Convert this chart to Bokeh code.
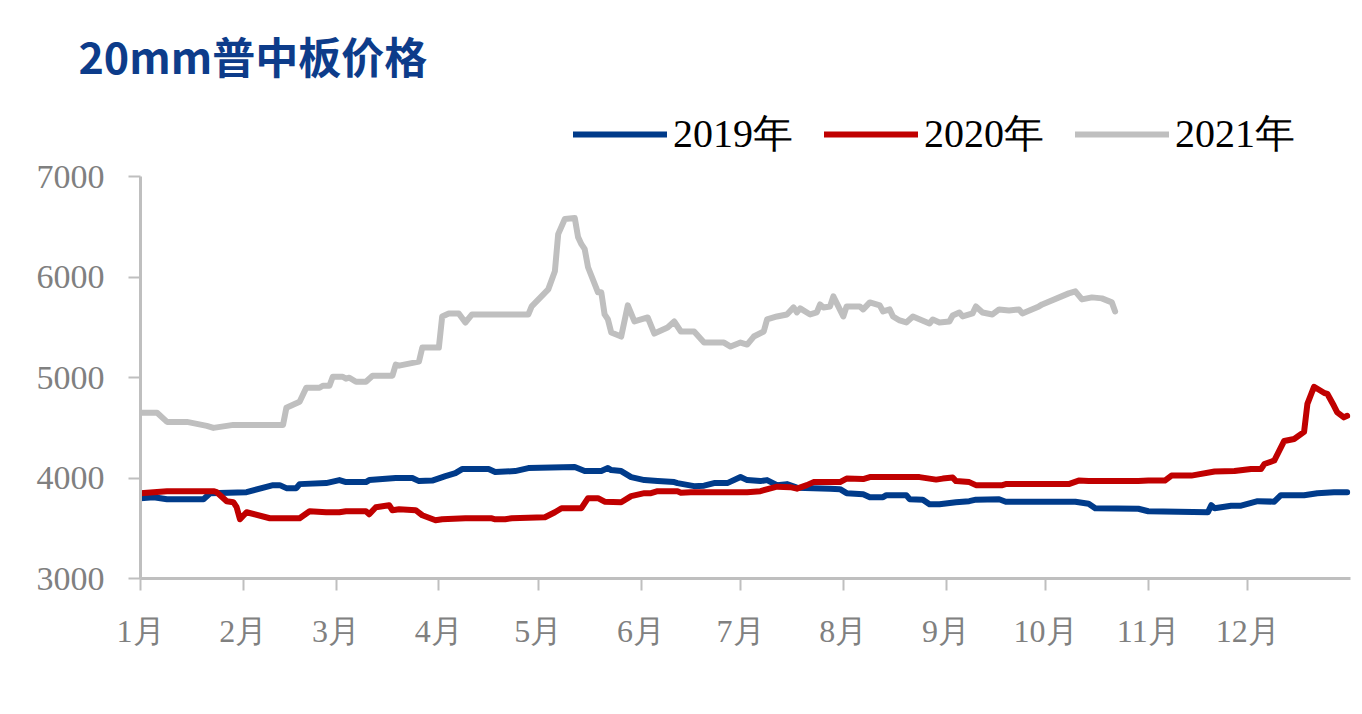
from bokeh.plotting import figure
from bokeh.models import FixedTicker, Legend, LegendItem, Range1d
from bokeh.embed import file_html
from bokeh.resources import INLINE

# ---- data (x = day of year, 0 = 1月1日) ----
month_start = [0, 31, 59, 90, 120, 151, 181, 212, 243, 273, 304, 334]
month_labels = ["1月", "2月", "3月", "4月", "5月", "6月", "7月", "8月", "9月", "10月", "11月", "12月"]
y_ticks = [3000, 4000, 5000, 6000, 7000]

day_2019 = [0, 4, 8, 19, 21, 32, 40, 42, 44, 47, 48, 56, 60, 62, 68, 69, 77, 82, 84, 88,
            92, 95, 97, 105, 107, 113, 117, 131, 134, 139, 141, 142, 145, 148, 152, 156, 161, 162, 167, 170,
            173, 177, 181, 183, 187, 189, 192, 195, 198, 208, 211, 213, 218, 220, 224, 225, 231, 232, 236, 238,
            241, 246, 250, 252, 259, 261, 282, 286, 288, 301, 304, 313, 322, 323, 324, 329, 332, 337, 342, 344,
            351, 355, 360, 364]
price_2019 = [3800, 3810, 3790, 3790, 3850, 3860, 3930, 3930, 3900, 3900, 3940, 3950, 3980, 3960, 3960, 3980, 4000, 4000, 3970, 3975,
              4020, 4050, 4090, 4090, 4060, 4070, 4100, 4110, 4070, 4070, 4100, 4080, 4070, 4010, 3980, 3970, 3960, 3950, 3920, 3925,
              3950, 3950, 4010, 3980, 3970, 3980, 3930, 3940, 3905, 3895, 3890, 3850, 3840, 3810, 3810, 3830, 3830, 3790, 3785, 3740,
              3740, 3760, 3770, 3785, 3790, 3765, 3765, 3745, 3700, 3695, 3670, 3665, 3660, 3730, 3700, 3725, 3725, 3770, 3765, 3830,
              3830, 3850, 3860, 3860]

day_2020 = [0, 8, 22, 23, 26, 28, 29, 30, 32, 39, 48, 51, 56, 60, 62, 68, 69, 71, 75, 76,
            78, 83, 85, 89, 91, 98, 106, 107, 110, 112, 122, 125, 127, 133, 135, 138, 140, 145, 148, 152,
            154, 156, 162, 163, 166, 183, 187, 192, 196, 198, 201, 203, 211, 213, 218, 220, 235, 240, 242, 245,
            246, 250, 252, 260, 261, 269, 280, 283, 286, 301, 304, 309, 311, 317, 324, 330, 335, 338, 339, 342,
            345, 348, 351, 352, 354, 357, 358, 360, 361, 363, 364]
price_2020 = [3850, 3870, 3870, 3860, 3770, 3760, 3710, 3590, 3660, 3600, 3600, 3670, 3660, 3660, 3670, 3670, 3640, 3710, 3730, 3680,
              3690, 3680, 3630, 3580, 3590, 3600, 3600, 3590, 3590, 3600, 3610, 3660, 3700, 3700, 3800, 3800, 3765, 3760, 3820, 3850,
              3850, 3870, 3870, 3855, 3860, 3860, 3870, 3915, 3910, 3895, 3930, 3960, 3960, 3995, 3990, 4010, 4010, 3985, 3995, 4005,
              3970, 3960, 3930, 3930, 3940, 3940, 3940, 3975, 3970, 3970, 3975, 3975, 4025, 4025, 4065, 4070, 4090, 4090, 4140, 4175,
              4370, 4390, 4460, 4740, 4910, 4850, 4840, 4720, 4655, 4605, 4620]

day_2021 = [0, 5, 8, 14, 20, 22, 28, 43, 44, 48, 50, 54, 55, 57, 58, 61, 62, 63, 65, 68,
            70, 76, 77, 78, 84, 85, 90, 91, 93, 96, 98, 100, 117, 118, 123, 125, 126, 128, 131, 132,
            133, 134, 135, 138, 139, 140, 141, 142, 145, 147, 149, 153, 155, 159, 161, 163, 167, 170, 176, 178,
            181, 183, 185, 188, 189, 192, 195, 197, 198, 199, 202, 204, 205, 206, 208, 209, 212, 213, 217, 218,
            220, 223, 224, 226, 227, 229, 231, 233, 238, 239, 241, 244, 245, 247, 248, 251, 252, 254, 257, 259,
            262, 265, 266, 271, 272, 280, 282, 284, 287, 290, 293, 294]
price_2021 = [4650, 4650, 4560, 4560, 4520, 4500, 4530, 4530, 4700, 4760, 4900, 4900, 4920, 4920, 5010, 5010, 4990, 5000, 4960, 4960,
              5020, 5020, 5130, 5120, 5160, 5300, 5300, 5610, 5640, 5640, 5550, 5630, 5630, 5710, 5880, 6060, 6430, 6580, 6590, 6400,
              6330, 6280, 6100, 5850, 5850, 5630, 5580, 5450, 5410, 5720, 5560, 5600, 5440, 5500, 5560, 5460, 5460, 5350, 5350, 5310,
              5350, 5330, 5410, 5460, 5580, 5610, 5630, 5700, 5650, 5690, 5630, 5650, 5730, 5700, 5710, 5810, 5610, 5710, 5710, 5680,
              5750, 5720, 5660, 5680, 5610, 5570, 5550, 5610, 5540, 5580, 5550, 5560, 5620, 5650, 5610, 5640, 5710, 5650, 5630, 5680,
              5670, 5680, 5640, 5710, 5730, 5840, 5860, 5780, 5800, 5790, 5750, 5660]

series_names = ["2019年", "2020年", "2021年"]
series_colors = ["#003B8A", "#C00000", "#BFBFBF"]
title_text = "20mm普中板价格"

# ---- figure ----
W, H = 1362, 714
left, right, top, bottom = 140, 12, 100, 136
frame_h = H - top - bottom
p = figure(width=W, height=H, output_backend="svg", toolbar_location=None,
           title=title_text,
           min_border_left=left, min_border_right=right, min_border_top=top, min_border_bottom=bottom,
           x_range=Range1d(0, 365), y_range=Range1d(3000, 3000 + frame_h / 100.4 * 1000))
p.outline_line_color = None
p.grid.visible = False
p.background_fill_color = "white"
p.border_fill_color = "white"

p.title.align = "left"
p.title.offset = -62
p.title.standoff = 30
p.title.text_font = "Noto Sans CJK SC"
p.title.text_font_style = "bold"
p.title.text_font_size = "43px"
p.title.text_color = "#0D3C8A"

renderers = []
for d, v, c in zip([day_2019, day_2020, day_2021], [price_2019, price_2020, price_2021], series_colors):
    r = p.line(d, v, line_color=c, line_width=6, line_join="round", line_cap="round")
    renderers.append(r)

axis_color = "#BFBFBF"
label_color = "#808080"

xa = p.xaxis[0]
xa.ticker = FixedTicker(ticks=month_start)
xa.major_label_overrides = {m: l for m, l in zip(month_start, month_labels)}
xa.axis_line_color = axis_color
xa.axis_line_width = 3
xa.major_tick_line_color = axis_color
xa.major_tick_line_width = 2
xa.major_tick_in = 0
xa.major_tick_out = 12
xa.minor_tick_line_color = None
xa.major_label_text_font = "Liberation Serif"
xa.major_label_text_font_size = "32px"
xa.major_label_text_color = label_color
xa.major_label_standoff = 22

ya = p.yaxis[0]
ya.ticker = FixedTicker(ticks=y_ticks)
ya.bounds = (3000, 7000)
ya.axis_line_color = axis_color
ya.axis_line_width = 3
ya.major_tick_line_color = axis_color
ya.major_tick_line_width = 2
ya.major_tick_in = 0
ya.major_tick_out = 12
ya.minor_tick_line_color = None
ya.major_label_text_font = "Liberation Serif"
ya.major_label_text_font_size = "34px"
ya.major_label_text_color = label_color
ya.major_label_standoff = 24

legend = Legend(items=[LegendItem(label=n, renderers=[r]) for n, r in zip(series_names, renderers)],
                location=(433, 417), orientation="horizontal",
                glyph_width=94, glyph_height=40, label_height=40, label_standoff=6, spacing=31,
                padding=0, margin=0,
                label_text_font="Liberation Serif", label_text_font_size="40px", label_text_color="black",
                border_line_color=None, background_fill_alpha=0)
p.add_layout(legend)

open("out.html", "w").write(file_html(p, INLINE))
